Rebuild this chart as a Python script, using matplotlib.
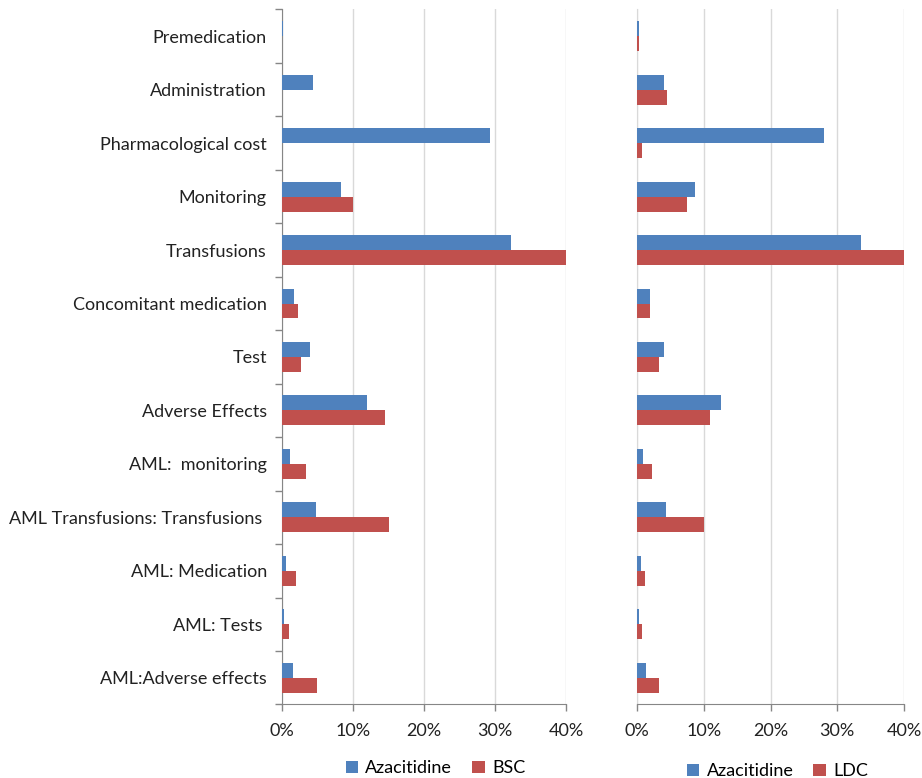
import numpy as np
import matplotlib.pyplot as plt
from matplotlib.ticker import PercentFormatter

plt.rcParams['font.family'] = ['Lato', 'DejaVu Sans']

categories = ['Premedication', 'Administration', 'Pharmacological cost', 'Monitoring',
              'Transfusions', 'Concomitant medication', 'Test', 'Adverse Effects',
              'AML:  monitoring', 'AML Transfusions: Transfusions ', 'AML: Medication',
              'AML: Tests ', 'AML:Adverse effects']

# percent of total cost
aza_left = [0.15, 4.4, 29.3, 8.3, 32.3, 1.75, 3.9, 12.0, 1.1, 4.8, 0.55, 0.3, 1.5]
bsc = [0.0, 0.0, 0.0, 10.0, 40.3, 2.3, 2.7, 14.5, 3.35, 15.1, 1.9, 1.0, 4.9]
aza_right = [0.3, 4.1, 28.0, 8.75, 33.6, 1.9, 4.0, 12.6, 0.95, 4.3, 0.55, 0.35, 1.35]
ldc = [0.3, 4.45, 0.7, 7.5, 40.3, 1.9, 3.3, 10.95, 2.2, 10.0, 1.2, 0.7, 3.3]

blue = '#4F81BD'
red = '#C0504D'
axis_col = '#868686'
grid_col = '#D9D9D9'

fig = plt.figure(figsize=(9.22, 7.78), dpi=100)
ax1 = fig.add_axes([0.3059, 0.0945, 0.308, 0.8933])
ax2 = fig.add_axes([0.6909, 0.0945, 0.2896, 0.8933])

y = np.arange(len(categories))
h = 0.28


def draw(ax, a, b, name_b, show_labels):
    ax.barh(y - h / 2, np.array(a) / 100, height=h, color=blue, label='Azacitidine', zorder=3)
    ax.barh(y + h / 2, np.array(b) / 100, height=h, color=red, label=name_b, zorder=3)
    ax.set_xlim(0, 0.40)
    ax.set_ylim(len(categories) - 0.5, -0.5)
    ax.set_xticks([0, 0.1, 0.2, 0.3, 0.4])
    ax.xaxis.set_major_formatter(PercentFormatter(1.0, decimals=0))
    ax.grid(axis='x', color=grid_col, linewidth=1, zorder=0)
    for s in ['top', 'right']:
        ax.spines[s].set_visible(False)
    ax.spines['bottom'].set_color(axis_col)
    ax.tick_params(axis='x', colors=axis_col, length=5, width=1, labelsize=13,
                   labelcolor='#222222', pad=8)
    if show_labels:
        ax.spines['left'].set_color(axis_col)
        ax.set_yticks(y)
        ax.set_yticklabels(categories)
        ax.set_yticks(np.arange(len(categories) + 1) - 0.5, minor=True)
        ax.tick_params(axis='y', which='major', length=0, labelsize=13,
                       labelcolor='#222222', pad=11)
        ax.tick_params(axis='y', which='minor', length=5, width=1, colors=axis_col)
    else:
        ax.spines['left'].set_color(grid_col)
        ax.set_yticks([])


draw(ax1, aza_left, bsc, 'BSC', True)
draw(ax2, aza_right, ldc, 'LDC', False)

ax1.legend(loc='center', bbox_to_anchor=(0.54, -0.092), ncol=2, frameon=False,
           fontsize=13, handlelength=0.7, handleheight=0.7, handletextpad=0.4,
           columnspacing=1.1)
ax2.legend(loc='center', bbox_to_anchor=(0.526, -0.096), ncol=2, frameon=False,
           fontsize=13, handlelength=0.7, handleheight=0.7, handletextpad=0.4,
           columnspacing=1.1)

fig.savefig('out.png', dpi=100)
